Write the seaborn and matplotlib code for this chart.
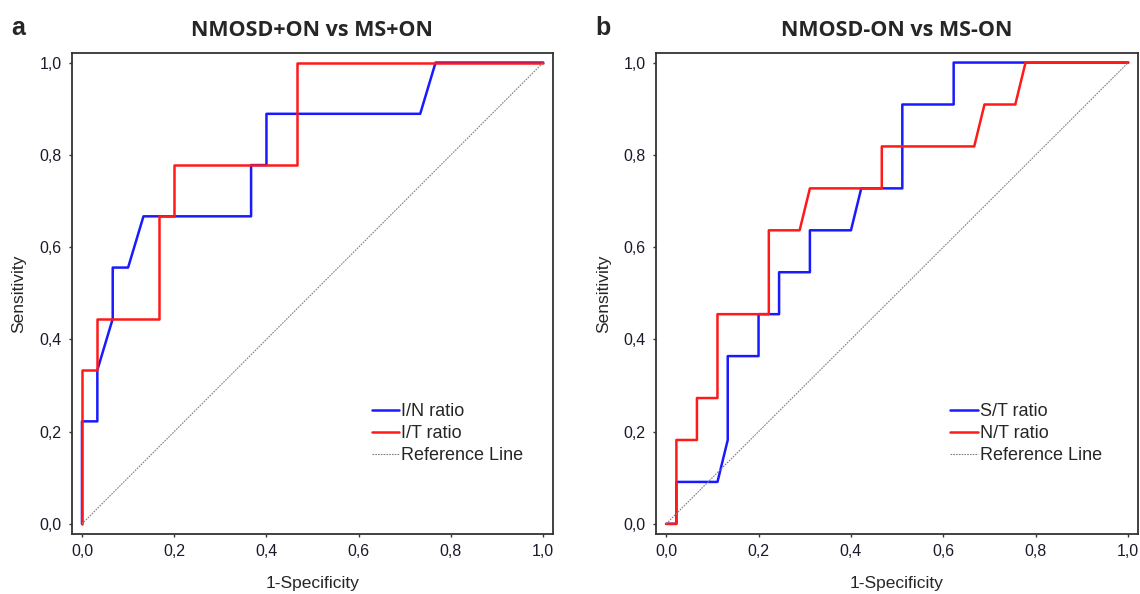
import matplotlib
matplotlib.use("Agg")
import matplotlib.pyplot as plt
import matplotlib.ticker as mticker
import pandas as pd
import seaborn as sns

# ROC curve vertices (1-Specificity, Sensitivity)
a_in_x = [0, 0, 1/30, 1/30, 2/30, 2/30, 3/30, 4/30, 11/30, 11/30, 12/30, 12/30, 22/30, 23/30, 1]
a_in_y = [0, 2/9, 2/9, 3/9, 4/9, 5/9, 5/9, 6/9, 6/9, 7/9, 7/9, 8/9, 8/9, 1, 1]
a_it_x = [0, 0, 1/30, 1/30, 5/30, 5/30, 6/30, 6/30, 14/30, 14/30, 1]
a_it_y = [0, 3/9, 3/9, 4/9, 4/9, 6/9, 6/9, 7/9, 7/9, 1, 1]

b_st_x = [0, 1/45, 1/45, 5/45, 6/45, 6/45, 9/45, 9/45, 11/45, 11/45, 14/45, 14/45,
          18/45, 19/45, 23/45, 23/45, 28/45, 28/45, 1]
b_st_y = [0, 0, 1/11, 1/11, 2/11, 4/11, 4/11, 5/11, 5/11, 6/11, 6/11, 7/11,
          7/11, 8/11, 8/11, 10/11, 10/11, 1, 1]
b_nt_x = [0, 1/45, 1/45, 3/45, 3/45, 5/45, 5/45, 10/45, 10/45, 13/45, 14/45,
          21/45, 21/45, 30/45, 31/45, 34/45, 35/45, 1]
b_nt_y = [0, 0, 2/11, 2/11, 3/11, 3/11, 5/11, 5/11, 7/11, 7/11, 8/11,
          8/11, 9/11, 9/11, 10/11, 10/11, 1, 1]

ref_x = [0, 1]
ref_y = [0, 1]

panels = [
    ("a", "NMOSD+ON vs MS+ON", [("I/N ratio", a_in_x, a_in_y), ("I/T ratio", a_it_x, a_it_y)]),
    ("b", "NMOSD-ON vs MS-ON", [("S/T ratio", b_st_x, b_st_y), ("N/T ratio", b_nt_x, b_nt_y)]),
]
line_colors = ["#1a1aff", "#ff1a1a"]
tick_vals = [0, 0.2, 0.4, 0.6, 0.8, 1.0]

sns.set_style("ticks")
plt.rcParams["font.family"] = ["Liberation Sans", "DejaVu Sans"]

fig = plt.figure(figsize=(11.4, 5.94), dpi=100)
axes = [fig.add_axes([0.063, 0.101, 0.422, 0.81]),
        fig.add_axes([0.5754, 0.101, 0.4228, 0.81])]

for ax, (letter, title, curves), leg_x in zip(axes, panels, [0.624, 0.611]):
    for (name, xs, ys), col in zip(curves, line_colors):
        df = pd.DataFrame({"x": xs, "y": ys})
        sns.lineplot(data=df, x="x", y="y", ax=ax, sort=False, estimator=None,
                     color=col, lw=1.8, label=name)
    sns.lineplot(x=ref_x, y=ref_y, ax=ax, color="#808080", lw=0.8,
                 linestyle=(0, (1.5, 1)), label="Reference Line")
    ax.set_xlim(-0.022, 1.021)
    ax.set_ylim(-0.022, 1.021)
    ax.set_xticks(tick_vals)
    ax.set_yticks(tick_vals)
    fmt = mticker.FuncFormatter(lambda v, p: f"{v:.1f}".replace(".", ","))
    ax.xaxis.set_major_formatter(fmt)
    ax.yaxis.set_major_formatter(fmt)
    ax.tick_params(labelsize=11.5, length=2.5, width=1, pad=5,
                   color="#333333", labelcolor="#1a1a2a")
    for s in ax.spines.values():
        s.set_linewidth(1.3)
        s.set_color("#333333")
    ax.set_xlabel("1-Specificity", fontsize=12.5, labelpad=12)
    ax.set_ylabel("Sensitivity", fontsize=12.5, labelpad=9)
    ax.set_title(title, fontsize=15.5, fontweight="bold", family="Open Sans", pad=12)
    ax.legend(loc="upper left", bbox_to_anchor=(leg_x, 0.272), frameon=False,
              fontsize=13, handlelength=1.5, handletextpad=0.12, labelspacing=0.28,
              borderaxespad=0, borderpad=0)
    pos = ax.get_position()
    fig.text(pos.x0 - 0.053, 0.933, letter, fontsize=18, fontweight="bold",
             family="Liberation Sans", va="bottom")

fig.savefig("out.png", dpi=100)
